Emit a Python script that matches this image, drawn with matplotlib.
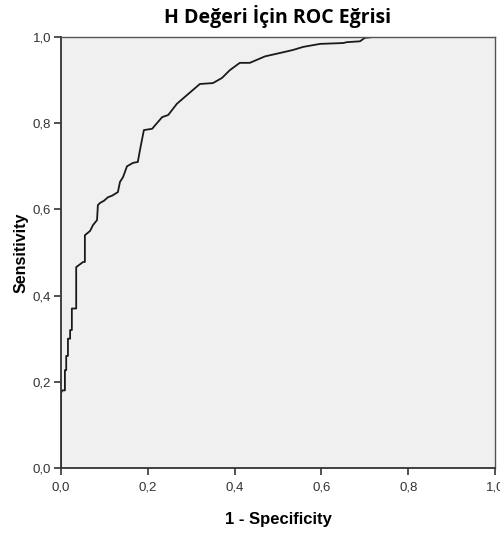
import matplotlib
matplotlib.use("Agg")
import matplotlib.pyplot as plt
from matplotlib.ticker import FuncFormatter

# ROC curve points (1 - specificity, sensitivity)
fpr = [0.0, 0.0, 0.003, 0.009, 0.009, 0.012, 0.012, 0.016, 0.016, 0.021, 0.021,
       0.025, 0.025, 0.035, 0.035, 0.051, 0.055, 0.055, 0.067, 0.074, 0.083,
       0.085, 0.09, 0.099, 0.108, 0.118, 0.131, 0.136, 0.143, 0.152, 0.166,
       0.177, 0.182, 0.191, 0.21, 0.221, 0.233, 0.247, 0.267, 0.29, 0.32,
       0.35, 0.371, 0.389, 0.412, 0.435, 0.47, 0.505, 0.535, 0.558, 0.597,
       0.65, 0.659, 0.689, 0.70, 0.719, 1.0]
tpr = [0.0, 0.174, 0.18, 0.18, 0.227, 0.227, 0.26, 0.26, 0.30, 0.30, 0.32,
       0.32, 0.37, 0.37, 0.466, 0.478, 0.478, 0.54, 0.55, 0.564, 0.575,
       0.61, 0.615, 0.62, 0.628, 0.632, 0.64, 0.664, 0.675, 0.70, 0.708,
       0.71, 0.738, 0.784, 0.787, 0.80, 0.814, 0.819, 0.845, 0.865, 0.891,
       0.893, 0.905, 0.923, 0.94, 0.94, 0.955, 0.963, 0.97, 0.977, 0.984,
       0.986, 0.988, 0.99, 0.998, 1.0, 1.0]

ticks = [0.0, 0.2, 0.4, 0.6, 0.8, 1.0]
title = "H Değeri İçin ROC Eğrisi"
xlabel = "1 - Specificity"
ylabel = "Sensitivity"

fig = plt.figure(figsize=(5, 5.33), dpi=100)
ax = fig.add_axes([0.122, 0.122, 0.868, 0.8086])
ax.set_facecolor("#f0f0f0")

ax.plot(fpr, tpr, color="#1a1a1a", linewidth=1.3)

ax.set_xlim(0, 1)
ax.set_ylim(0, 1)
ax.set_xticks(ticks)
ax.set_yticks(ticks)
fmt = FuncFormatter(lambda v, p: ("%.1f" % v).replace(".", ","))
ax.xaxis.set_major_formatter(fmt)
ax.yaxis.set_major_formatter(fmt)
ax.tick_params(direction="out", length=5, width=1.2, labelsize=9.5,
               color="#333333", labelcolor="#333333", pad=2)
ax.tick_params(axis="x", pad=5)
for lbl in ax.get_xticklabels() + ax.get_yticklabels():
    lbl.set_family("Liberation Sans")

for side in ["left", "bottom"]:
    ax.spines[side].set_color("#333333")
    ax.spines[side].set_linewidth(1.3)
for side in ["top", "right"]:
    ax.spines[side].set_color("#555555")
    ax.spines[side].set_linewidth(1.0)

ax.set_xlabel(xlabel, fontsize=12, fontweight="bold", family="Liberation Sans", labelpad=13)
ax.set_ylabel(ylabel, fontsize=11.5, fontweight="bold", family="Liberation Sans", labelpad=3)
ax.set_title(title, fontsize=14, fontweight="bold", family="Open Sans", pad=10)

fig.savefig("out.png", dpi=100)
